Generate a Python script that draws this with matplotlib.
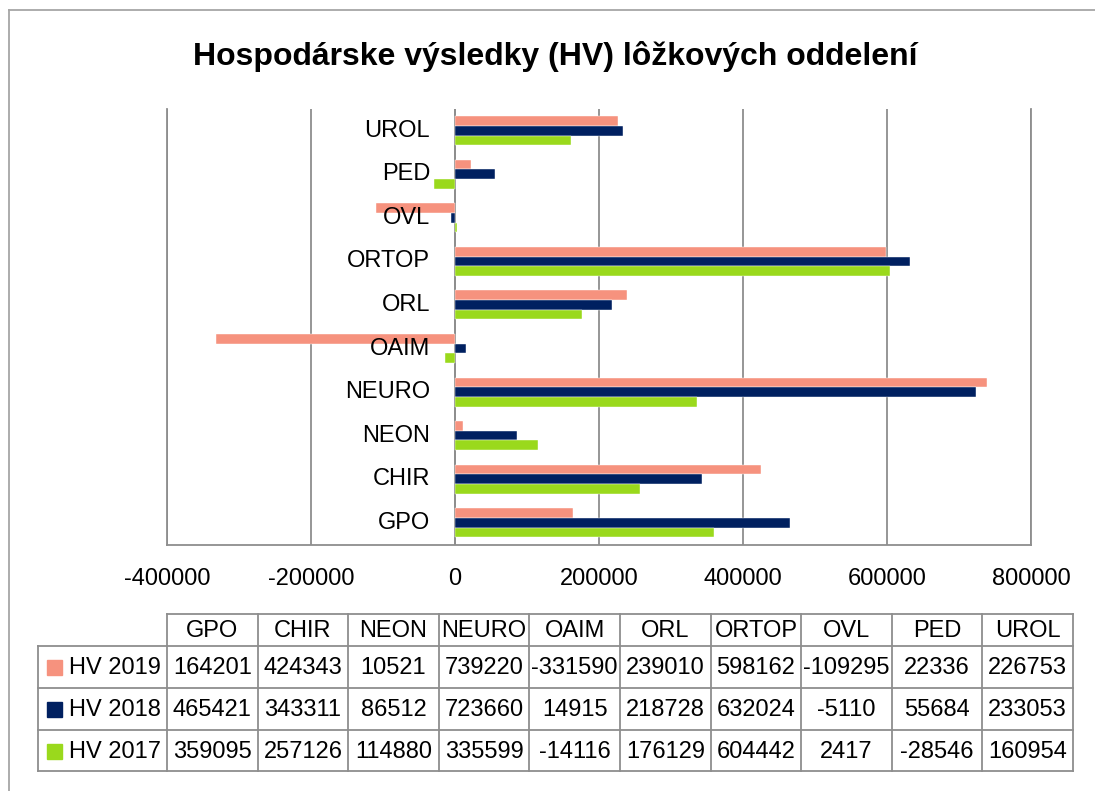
import numpy as np
import matplotlib
matplotlib.use("Agg")
import matplotlib.pyplot as plt
from matplotlib.transforms import offset_copy

plt.rcParams['font.family'] = ['Liberation Sans', 'DejaVu Sans']

title = "Hospodárske výsledky (HV) lôžkových oddelení"
categories = ["GPO", "CHIR", "NEON", "NEURO", "OAIM", "ORL", "ORTOP", "OVL", "PED", "UROL"]
series_names = ["HV 2019", "HV 2018", "HV 2017"]
hv2019 = [164201, 424343, 10521, 739220, -331590, 239010, 598162, -109295, 22336, 226753]
hv2018 = [465421, 343311, 86512, 723660, 14915, 218728, 632024, -5110, 55684, 233053]
hv2017 = [359095, 257126, 114880, 335599, -14116, 176129, 604442, 2417, -28546, 160954]
xticks = [-400000, -200000, 0, 200000, 400000, 600000, 800000]
colors = ["#F6927E", "#002060", "#9AD91C"]
series = [hv2019, hv2018, hv2017]

W, H = 1095, 791
fig = plt.figure(figsize=(W / 100, H / 100), dpi=100)

# overlay for frame and table (pixel coordinates)
ov = fig.add_axes([0, 0, 1, 1])
ov.set_xlim(0, W)
ov.set_ylim(H, 0)
ov.axis('off')

grid_c = "#8E8E8E"
ov.plot([9, W], [10, 10], color="#A6A6A6", lw=1.3)
ov.plot([9, 9], [10, H], color="#A6A6A6", lw=1.3)

# main chart axes
L, R, T, B = 167, 1031, 109, 544.5
ax = fig.add_axes([L / W, 1 - B / H, (R - L) / W, (B - T) / H])
ax.patch.set_alpha(0)
n = len(categories)
y = np.arange(n)
bh = 2 / 9  # gap width 50%
offsets = [bh, 0, -bh]
for vals, col, off, name in zip(series, colors, offsets, series_names):
    ax.barh(y + off, vals, height=bh, color=col, edgecolor='white', linewidth=0.3, zorder=3, label=name)

ax.set_xlim(xticks[0], xticks[-1])
ax.set_ylim(-0.5, n - 0.5)
ax.set_xticks(xticks)
ax.set_xticklabels([str(t) for t in xticks], fontsize=17)
ax.set_yticks([])
ax.tick_params(axis='x', length=0, pad=17)
ax.grid(axis='x', color=grid_c, lw=1.3, zorder=1)
ax.spines['top'].set_visible(False)
for s in ['left', 'right', 'bottom']:
    ax.spines[s].set_color(grid_c)
    ax.spines[s].set_linewidth(1.3)
ax.axvline(0, color=grid_c, lw=1.3, zorder=2)

lab_tr = offset_copy(ax.transData, fig=fig, x=-25, y=0, units='dots')
for i, c in enumerate(categories):
    ax.text(0, i, c, transform=lab_tr, ha='right', va='center', fontsize=17, zorder=4)

fig.text(555 / W, 1 - 56 / H, title, ha='center', va='center', fontsize=23, fontweight='bold')

# data table
cols = np.linspace(167, 1073, n + 1)
rows = [614, 646, 688, 730, 771]
lw_t = 1.3
ov.plot([cols[0], cols[-1]], [rows[0], rows[0]], color=grid_c, lw=lw_t)
for r in rows[1:]:
    ov.plot([38, cols[-1]], [r, r], color=grid_c, lw=lw_t)
for cx in cols:
    ov.plot([cx, cx], [rows[0], rows[-1]], color=grid_c, lw=lw_t)
ov.plot([38, 38], [rows[1], rows[-1]], color=grid_c, lw=lw_t)

centers = (cols[:-1] + cols[1:]) / 2
for j, c in enumerate(categories):
    ov.text(centers[j], (rows[0] + rows[1]) / 2 + 1, c, ha='center', va='center', fontsize=17)
for k, (vals, col, name) in enumerate(zip(series, colors, series_names)):
    yc = (rows[k + 1] + rows[k + 2]) / 2 + 1
    ov.add_patch(plt.Rectangle((47, yc - 8), 15, 15, color=col))
    ov.text(69, yc, name, ha='left', va='center', fontsize=17)
    for j, v in enumerate(vals):
        ov.text(centers[j], yc, str(v), ha='center', va='center', fontsize=17)

fig.savefig("out.png", dpi=100)
